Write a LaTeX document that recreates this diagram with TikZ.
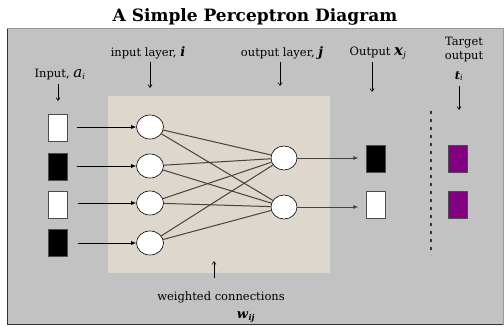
\documentclass[tikz,border=0pt]{standalone}
\usepackage{fontspec}
\setmainfont{DejaVu Serif}
\usetikzlibrary{arrows.meta,shapes.geometric}
\pgfdeclarelayer{panel}
\pgfdeclarelayer{wires}
\pgfsetlayers{panel,wires,main}
\definecolor{framegray}{RGB}{194,194,194}
\definecolor{beige}{RGB}{222,215,205}
\definecolor{conn}{RGB}{70,66,62}
\definecolor{purp}{RGB}{128,0,128}
\begin{document}
\begin{tikzpicture}[x=1pt,y=-1pt,
  lbl/.style={font=\fontsize{11.5}{13}\selectfont, inner sep=0pt},
  neuron/.style={draw=black, line width=0.6pt, fill=white, ellipse, inner sep=0pt, minimum width=27pt, minimum height=24pt},
  cell/.style={draw=black!70, line width=0.5pt, minimum width=19pt, minimum height=27pt, inner sep=0pt},
  arr/.style={-{Latex[length=5pt,width=4pt]}, line width=0.6pt},
  larr/.style={-{Straight Barb[length=3pt,width=4pt]}, line width=0.6pt},
  wire/.style={conn, line width=1pt}]
\useasboundingbox (0,0) rectangle (504,327);
\begin{pgfonlayer}{panel}
\fill[white] (0,0) rectangle (504,327);
% frame
\fill[framegray] (7,28) rectangle (503,325);
\draw[black!80, line width=1pt] (7.5,28) -- (7.5,324.5) -- (503,324.5);
\draw[black!40, line width=0.4pt] (7,28) -- (503,28) -- (503,325);
% beige panel
\fill[beige] (108,96) rectangle (330,273);
\end{pgfonlayer}
% title
\node[font=\bfseries\fontsize{17}{19}\selectfont, inner sep=0pt] (title) at (255,17) {A Simple Perceptron Diagram};
% input cells
\node[cell, fill=white] (in1) at (58,128) {};
\node[cell, fill=black] (in2) at (58,167) {};
\node[cell, fill=white] (in3) at (58,205) {};
\node[cell, fill=black] (in4) at (58,243) {};
% input neurons
\node[neuron] (i1) at (150,127) {};
\node[neuron] (i2) at (150,166) {};
\node[neuron] (i3) at (150,203) {};
\node[neuron] (i4) at (150,243) {};
% output neurons
\node[neuron, minimum width=26pt] (o1) at (284,158) {};
\node[neuron, minimum width=26pt] (o2) at (284,207) {};
% output cells
\node[cell, fill=black] (out1) at (376,159) {};
\node[cell, fill=white] (out2) at (376,205) {};
% target cells
\node[cell, fill=purp] (t1) at (458,159) {};
\node[cell, fill=purp] (t2) at (458,205) {};
% connections
\begin{pgfonlayer}{wires}
\foreach \a in {i1,i2,i3,i4}{
  \foreach \b in {o1,o2}{
    \draw[wire] (\a) -- (\b);
  }
}
\end{pgfonlayer}
% input arrows
\draw[arr] ([xshift=9pt]in1.east|-i1) -- (i1.west);
\draw[arr] ([xshift=9pt]in2.east|-i2) -- (i2.west);
\draw[arr] ([xshift=10pt]in3.east|-i3) -- (i3.west);
\draw[arr] ([xshift=10pt]in4.east|-i4) -- (i4.west);
% output arrows
\draw[arr, conn] (o1.east) -- ([xshift=-8pt]out1.west|-o1);
\draw[arr, conn] (o2.east) -- ([xshift=-8pt]out2.west|-o2);
% dotted separator
\coordinate (d1) at (431,111);
\coordinate (d2) at (431,255);
\draw[black!80, line width=1.6pt, dash pattern=on 3pt off 5pt] (d1) -- (d2);
% labels
\node[lbl] (linput) at (60,75) {Input, \textit{\fontsize{15}{15}\selectfont a}\textsubscript{\textit{i}}};
\node[lbl] (linl) at (148,53) {input layer, \textbf{\textit{\fontsize{13}{13}\selectfont i}}};
\node[lbl] (loutl) at (282,53) {output layer, \textbf{\textit{\fontsize{13}{13}\selectfont j}}};
\node[lbl] (lout) at (378,53) {Output \textbf{\textit{\fontsize{15}{15}\selectfont x}}\textsubscript{\textit{j}}};
\node[lbl, align=center] (ltgt) at (464,50) {Target\\[1pt]output};
\node[lbl] (lt) at (459,76) {\textbf{\textit{t}}\textsubscript{\textit{i}}};
\node[lbl] (lw) at (221,297) {weighted connections};
\node[lbl] (lwij) at (246,317) {\textbf{\textit{\fontsize{13}{13}\selectfont w}}\textsubscript{\textbf{\textit{ij}}}};
% label arrows
\coordinate (p1) at (58,84);  \coordinate (q1) at (58,101);
\coordinate (p2) at (150,62); \coordinate (q2) at (150,88);
\coordinate (p3) at (280,62); \coordinate (q3) at (280,86);
\coordinate (p4) at (372,62); \coordinate (q4) at (372,92);
\coordinate (p5) at (459,86); \coordinate (q5) at (459,110);
\coordinate (p6) at (214,278); \coordinate (q6) at (214,261);
\foreach \i in {1,...,6}{\draw[larr] (p\i) -- (q\i);}
\end{tikzpicture}
\end{document}
